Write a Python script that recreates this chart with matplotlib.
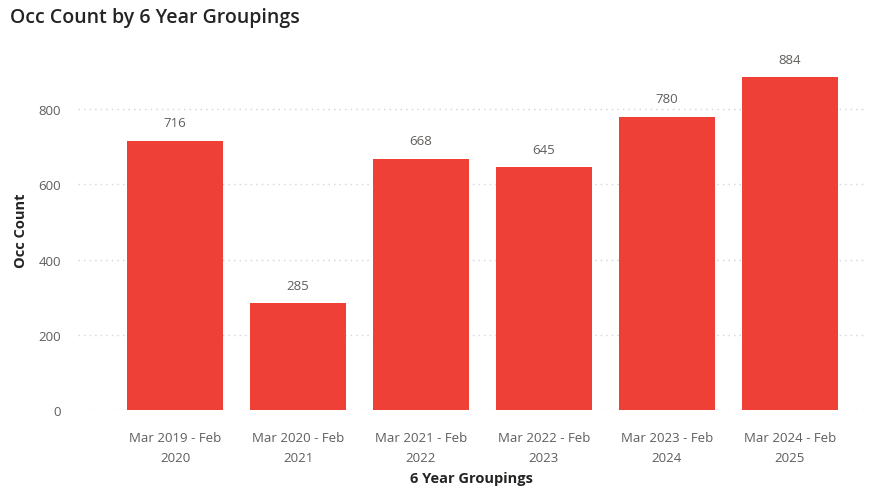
import matplotlib.pyplot as plt
import numpy as np

plt.rcParams['font.family'] = ['Open Sans', 'DejaVu Sans']

periods = ["Mar 2019 - Feb\n2020", "Mar 2020 - Feb\n2021", "Mar 2021 - Feb\n2022",
           "Mar 2022 - Feb\n2023", "Mar 2023 - Feb\n2024", "Mar 2024 - Feb\n2025"]
occ_count = [716, 285, 668, 645, 780, 884]

fig = plt.figure(figsize=(8.78, 4.89), dpi=100)
ax = fig.add_axes([0.0888, 0.1595, 0.896, 0.7385])

x = np.arange(len(periods))
bars = ax.bar(x, occ_count, width=0.78, color='#EE4037', zorder=3)
for xi, v in zip(x, occ_count):
    ax.text(xi, v + 30, str(v), ha='center', va='bottom', fontsize=9.5, color='#605E5C')

ax.set_xlim(-0.79, 5.61)
ax.set_ylim(0, 960)
ax.set_yticks([0, 200, 400, 600, 800])
ax.set_xticks(x)
ax.set_xticklabels(periods, fontsize=9.5, color='#605E5C', linespacing=1.7)
ax.tick_params(axis='y', labelsize=9.5, labelcolor='#605E5C', length=0, pad=12)
ax.tick_params(axis='x', length=0, pad=15)
ax.grid(axis='y', color='#D4D4D4', linestyle=(0, (1, 3)), linewidth=1, zorder=0)
for s in ax.spines.values():
    s.set_visible(False)

ax.set_ylabel('Occ Count', fontsize=10.5, fontweight='bold', color='#252423', labelpad=8)
ax.set_xlabel('6 Year Groupings', fontsize=10.5, fontweight='bold', color='#252423', labelpad=5)
fig.text(0.011, 0.963, 'Occ Count by 6 Year Groupings', fontsize=14, fontweight='semibold',
         color='#252423', va='center')

fig.savefig('out.png', dpi=100)
